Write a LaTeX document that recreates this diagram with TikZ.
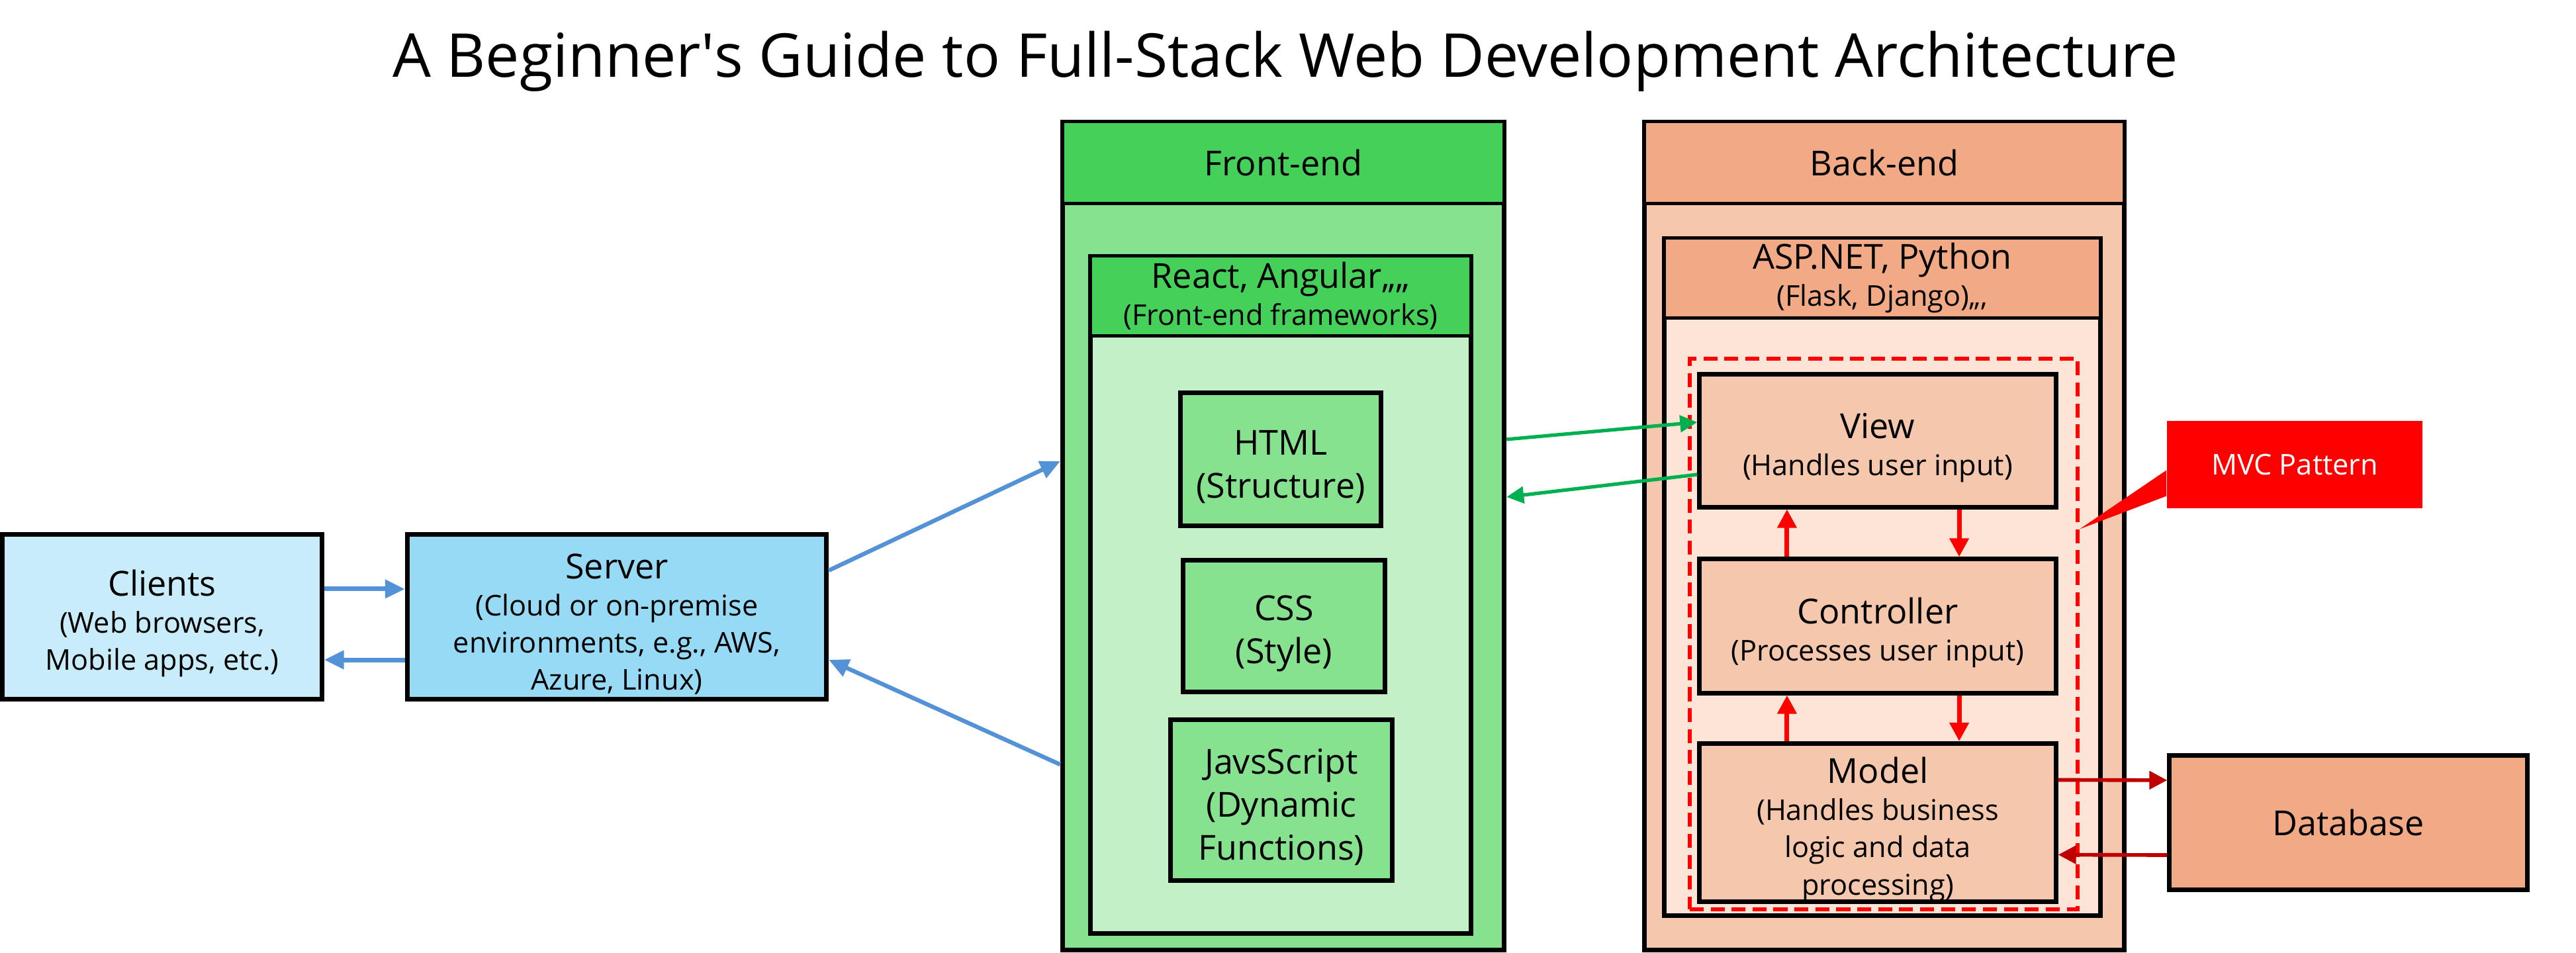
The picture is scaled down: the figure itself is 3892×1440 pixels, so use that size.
\documentclass[tikz,border=0pt]{standalone}
\usepackage{fontspec}
\setmainfont{Open Sans}
\usetikzlibrary{calc,arrows.meta}

\definecolor{clientfill}{RGB}{200,236,250}
\definecolor{serverfill}{RGB}{151,218,246}
\definecolor{fehead}{RGB}{69,209,89}
\definecolor{febody}{RGB}{135,226,143}
\definecolor{fwbody}{RGB}{196,240,199}
\definecolor{behead}{RGB}{241,170,133}
\definecolor{bebody}{RGB}{245,199,172}
\definecolor{aspbody}{RGB}{252,228,214}
\definecolor{arrowblue}{RGB}{84,146,216}
\definecolor{arrowgreen}{RGB}{0,176,80}
\definecolor{mvcred}{RGB}{255,0,0}
\definecolor{dbred}{RGB}{192,0,0}

\newcommand{\bigtxt}{\fontsize{14.8}{18.5}\selectfont}
\newcommand{\smalltxt}{\fontsize{12.3}{16}\selectfont}
% pushes a node's text a little down
\newcommand{\drop}{\rule{0pt}{17pt}}

\begin{document}
\begin{tikzpicture}[x=0.01cm, y=-0.01cm]
    \tikzstyle{every node}=[inner sep=0, align=center, font=\smalltxt]
    \tikzstyle{box}=[draw, line width=2pt, rectangle]
    \tikzstyle{headbar}=[draw, line width=1.4pt, rectangle, anchor=north]
    \tikzstyle{bluearrow}=[draw=arrowblue, line width=1.8pt, -{Triangle[length=0.3cm, width=0.27cm]}]
    \tikzstyle{greenarrow}=[draw=arrowgreen, line width=1.5pt, -{Triangle[length=0.26cm, width=0.25cm]}]
    \tikzstyle{redarrow}=[draw=mvcred, line width=2pt, -{Triangle[length=0.28cm, width=0.28cm]}]
    \tikzstyle{dbarrow}=[draw=dbred, line width=1.6pt, -{Triangle[length=0.27cm, width=0.27cm]}]
    \useasboundingbox (0,0) rectangle (3892,1440);
    % title
    \node (title) at (1942,93) {\fontsize{26}{30}\selectfont A Beginner\textquotesingle s Guide to Full-Stack Web Development Architecture};
    % clients and server
    \node[box, fill=clientfill, minimum width=4.82cm, minimum height=2.49cm] (clients) at (245,932) {{\bigtxt\drop Clients}\\(Web browsers,\\Mobile apps, etc.)};
    \node[box, fill=serverfill, minimum width=6.33cm, minimum height=2.49cm] (server) at (932,932) {{\bigtxt\drop Server}\\(Cloud or on-premise\\environments, e.g., AWS,\\Azure, Linux)};
    % front-end
    \node[box, fill=febody, minimum width=6.67cm, minimum height=12.5cm] (fe) at (1939,810) {};
    \node[headbar, fill=fehead, minimum width=6.67cm, minimum height=1.24cm, font=\bigtxt] (fehd) at (fe.north) {Front-end};
    \node[box, fill=fwbody, minimum width=5.74cm, minimum height=10.22cm] (fw) at (1935,899) {};
    \node[headbar, fill=fehead, minimum width=5.74cm, minimum height=1.21cm] (fwhd) at (fw.north) {{\bigtxt React, Angular,,,,}\\(Front-end frameworks)};
    \node[box, fill=febody, minimum width=3.03cm, minimum height=2.01cm, font=\bigtxt] (html) at (1935,694) {\drop HTML\\(Structure)};
    \node[box, fill=febody, minimum width=3.04cm, minimum height=1.99cm, font=\bigtxt] (css) at (1940,946) {\drop CSS\\(Style)};
    \node[box, fill=febody, minimum width=3.34cm, minimum height=2.43cm, font=\bigtxt] (js) at (1936,1209) {\drop JavsScript\\(Dynamic\\Functions)};
    % back-end
    \node[box, fill=bebody, minimum width=7.24cm, minimum height=12.5cm] (be) at (2847,810) {};
    \node[headbar, fill=behead, minimum width=7.24cm, minimum height=1.24cm, font=\bigtxt] (behd) at (be.north) {Back-end};
    \node[box, fill=aspbody, minimum width=6.58cm, minimum height=10.23cm] (asp) at (2844,872) {};
    \node[headbar, fill=behead, minimum width=6.58cm, minimum height=1.21cm] (asphd) at (asp.north) {{\bigtxt ASP.NET, Python}\\(Flask, Django),,,};
    \node[draw=mvcred, line width=1.7pt, dash pattern=on 6pt off 3pt, minimum width=5.86cm, minimum height=8.31cm] (mvcbox) at (2846,958) {};
    \node[box, fill=bebody, minimum width=5.38cm, minimum height=2.0cm] (view) at (2837,666) {{\bigtxt\drop View}\\(Handles user input)};
    \node[box, fill=bebody, minimum width=5.38cm, minimum height=2.02cm] (ctrl) at (2837,946) {{\bigtxt\drop Controller}\\(Processes user input)};
    \node[box, fill=bebody, minimum width=5.38cm, minimum height=2.29cm] (model) at (2837,1243) {{\bigtxt\drop Model}\\(Handles business\\logic and data\\processing)};
    % database and label
    \node[box, fill=behead, minimum width=5.4cm, minimum height=2.02cm, font=\bigtxt] (db) at (3548,1243) {Database};
    \node[fill=mvcred, text=white, minimum width=3.86cm, minimum height=1.31cm] (mvc) at (3467,702) {MVC Pattern};
    \coordinate (tip) at ([yshift=1.585cm]mvcbox.east);
    \fill[mvcred] ([yshift=-0.085cm]mvc.west) -- (tip) -- ([yshift=-0.475cm]mvc.west) -- cycle;
    % connectors
    \draw[bluearrow, line width=2pt] ([yshift=0.42cm]clients.east) -- ([yshift=0.42cm]server.west);
    \draw[bluearrow, line width=2pt] ([yshift=-0.65cm]server.west) -- ([yshift=-0.65cm]clients.east);
    \draw[bluearrow] ([yshift=0.7cm]server.east) -- ([yshift=1.13cm]fe.west);
    \draw[bluearrow] ([yshift=-3.45cm]fe.west) -- ([yshift=-0.65cm]server.east);
    \draw[greenarrow] ([yshift=1.46cm]fe.east) -- ([yshift=0.28cm]view.west);
    \draw[greenarrow] ([yshift=-0.51cm]view.west) -- ([yshift=0.59cm]fe.east);
    \draw[redarrow] ([xshift=-1.37cm]ctrl.north) -- ([xshift=-1.37cm]view.south);
    \draw[redarrow] ([xshift=1.23cm]view.south) -- ([xshift=1.23cm]ctrl.north);
    \draw[redarrow] ([xshift=-1.37cm]model.north) -- ([xshift=-1.37cm]ctrl.south);
    \draw[redarrow] ([xshift=1.23cm]ctrl.south) -- ([xshift=1.23cm]model.north);
    \draw[dbarrow] ([yshift=0.645cm]model.east) -- ([yshift=0.64cm]db.west);
    \draw[dbarrow] ([yshift=-0.49cm]db.west) -- ([yshift=-0.485cm]model.east);
\end{tikzpicture}
\end{document}
